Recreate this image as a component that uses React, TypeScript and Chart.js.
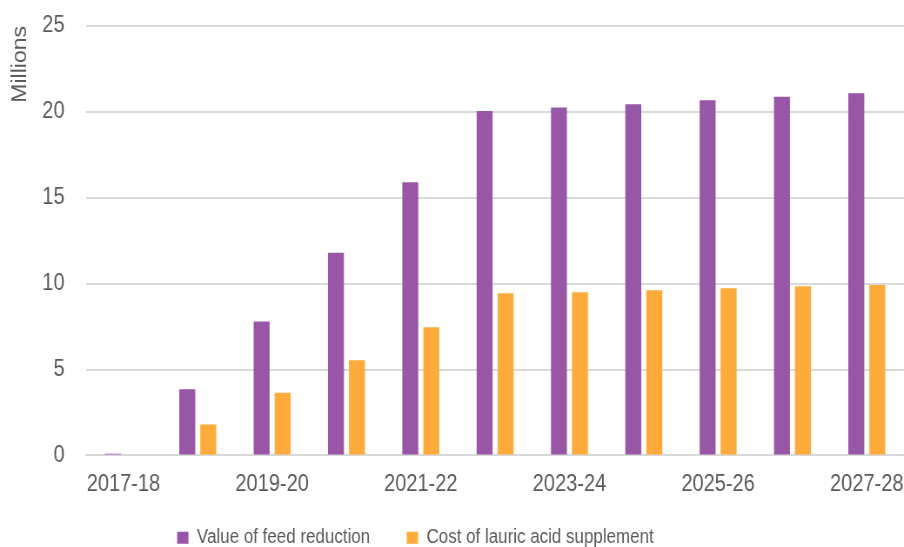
import React, { useEffect, useRef } from "react";
import { Chart, registerables } from "chart.js";

Chart.register(...registerables);

const years = [
  "2017-18", "2018-19", "2019-20", "2020-21", "2021-22", "2022-23",
  "2023-24", "2024-25", "2025-26", "2026-27", "2027-28",
];
const feedReductionValue = [0.1, 3.85, 7.8, 11.8, 15.9, 20.05, 20.25, 20.45, 20.67, 20.88, 21.08];
const lauricAcidCost = [0, 1.8, 3.65, 5.54, 7.46, 9.44, 9.5, 9.62, 9.73, 9.85, 9.92];
const yTicks = [0, 5, 10, 15, 20, 25];

const TEXT = "#595959";
const GRID = "#d9d9d9";
const FONT = "'Liberation Sans', Arial, sans-serif";

// The chart is laid out on a wider canvas and squeezed horizontally,
// giving the condensed lettering of the original figure.
const VIEW_W = 904;
const VIEW_H = 547;
const SQUEEZE = 0.87;
const CANVAS_W = Math.round(VIEW_W / SQUEEZE);

// Places the legend row below the axis labels and slightly left of centre.
const legendPlacement = {
  id: "legendPlacement",
  afterLayout(chart: any) {
    const lg = chart.legend;
    if (!lg) return;
    const dx = -47;
    const newTop = 486;
    lg.left += dx;
    lg.right += dx;
    lg.top = newTop;
    lg.bottom = VIEW_H;
  },
};

export default function App() {
  const canvasRef = useRef<HTMLCanvasElement | null>(null);

  useEffect(() => {
    document.body.style.margin = "0";
    const canvas = canvasRef.current;
    if (!canvas) return;
    const chart = new Chart(canvas, {
      type: "bar",
      data: {
        labels: years,
        datasets: [
          {
            label: "Value of feed reduction",
            data: feedReductionValue,
            backgroundColor: "#9857A6",
            categoryPercentage: 0.565,
            barPercentage: 0.76,
          },
          {
            label: "Cost of lauric acid supplement",
            data: lauricAcidCost,
            backgroundColor: "#FFAB3B",
            categoryPercentage: 0.565,
            barPercentage: 0.76,
          },
        ],
      },
      plugins: [legendPlacement],
      options: {
        animation: false,
        responsive: false,
        maintainAspectRatio: false,
        layout: { padding: { top: 26, right: 0, left: 10, bottom: 0 } },
        scales: {
          x: {
            grid: { display: false, drawTicks: true, tickLength: 15 },
            border: { color: GRID, width: 2 },
            ticks: {
              color: TEXT,
              font: { family: FONT, size: 23 },
              autoSkip: true,
              maxTicksLimit: 6,
              maxRotation: 0,
              padding: 0,
            },
          },
          y: {
            min: 0,
            max: 25,
            afterBuildTicks: (axis: any) => {
              axis.ticks = yTicks.map((v) => ({ value: v }));
            },
            grid: {
              color: GRID,
              lineWidth: 2,
              drawTicks: true,
              tickLength: 25,
              tickColor: "rgba(0,0,0,0)",
            },
            border: { display: false },
            ticks: {
              color: TEXT,
              font: { family: FONT, size: 23 },
              padding: 0,
            },
            title: {
              display: true,
              text: "Millions",
              align: "end",
              color: TEXT,
              font: { family: FONT, size: 23 },
              padding: { top: 0, bottom: 11 },
            },
          },
        },
        plugins: {
          legend: {
            position: "bottom",
            maxHeight: 49,
            labels: {
              color: TEXT,
              font: { family: FONT, size: 19.5 },
              boxWidth: 13,
              boxHeight: 12,
              padding: 42,
            },
          },
          tooltip: { enabled: false },
        },
      },
    });
    return () => chart.destroy();
  }, []);

  return (
    <div style={{ width: VIEW_W, height: VIEW_H, overflow: "hidden" }}>
      <div
        style={{
          width: CANVAS_W,
          height: VIEW_H,
          transform: `scaleX(${SQUEEZE})`,
          transformOrigin: "0 0",
        }}
      >
        <canvas ref={canvasRef} width={CANVAS_W} height={VIEW_H} style={{ display: "block" }} />
      </div>
    </div>
  );
}
